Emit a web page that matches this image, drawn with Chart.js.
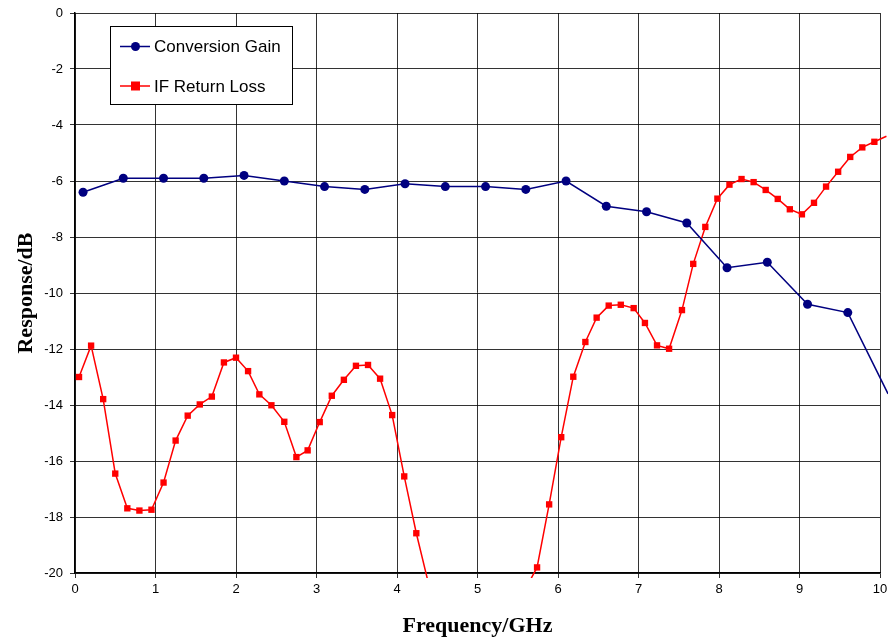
<!DOCTYPE html>
<html lang="en">
<head>
<meta charset="UTF-8">
<title>Response vs Frequency</title>
<script src="https://cdn.jsdelivr.net/npm/chart.js"></script>
<style>
  html, body { margin: 0; padding: 0; background: #fff; }
  #wrap { width: 888px; height: 641px; }
</style>
</head>
<body>
<div id="wrap"><canvas id="respChart" width="888" height="641"></canvas></div>

<script>
// Conversion gain (GHz, dB)
const gainFreq = [0.1, 0.6, 1.1, 1.6, 2.1, 2.6, 3.1, 3.6, 4.1, 4.6, 5.1, 5.6, 6.1, 6.6, 7.1, 7.6, 8.1, 8.6, 9.1, 9.6, 10.1];
const gainDb   = [-6.4, -5.9, -5.9, -5.9, -5.8, -6.0, -6.2, -6.3, -6.1, -6.2, -6.2, -6.3, -6.0, -6.9, -7.1, -7.5, -9.1, -8.9, -10.4, -10.7, -13.6];

// IF return loss (GHz, dB) - points between 4.4 and 5.6 fall below the axis
const rlFreq = [0.05, 0.2, 0.35, 0.5, 0.65, 0.8, 0.95, 1.1, 1.25, 1.4, 1.55, 1.7, 1.85, 2.0, 2.15, 2.29,
  2.44, 2.6, 2.75, 2.89, 3.04, 3.19, 3.34, 3.49, 3.64, 3.79, 3.94, 4.09, 4.24, 4.39, 4.54, 4.69,
  4.84, 4.99, 5.14, 5.29, 5.44, 5.59, 5.74, 5.89, 6.04, 6.19, 6.34, 6.48, 6.63, 6.78, 6.94, 7.08,
  7.23, 7.38, 7.54, 7.68, 7.83, 7.98, 8.13, 8.28, 8.43, 8.58, 8.73, 8.88, 9.03, 9.18, 9.33, 9.48,
  9.63, 9.78, 9.93, 10.08];
const rlDb = [-13.0, -11.88, -13.79, -16.45, -17.69, -17.77, -17.74, -16.77, -15.27, -14.38, -13.98, -13.7, -12.48, -12.31, -12.79, -13.62,
  -14.01, -14.6, -15.86, -15.62, -14.61, -13.67, -13.1, -12.6, -12.57, -13.06, -14.36, -16.55, -18.58, -20.36, -21.8, -23.0,
  -24.0, -24.5, -24.0, -23.0, -22.0, -20.6, -19.8, -17.55, -15.15, -12.99, -11.75, -10.88, -10.45, -10.42, -10.54, -11.07,
  -11.87, -11.99, -10.61, -8.96, -7.64, -6.63, -6.13, -5.93, -6.04, -6.32, -6.64, -7.01, -7.19, -6.78, -6.2, -5.67,
  -5.14, -4.8, -4.6, -4.4];

const xTicks = [0, 1, 2, 3, 4, 5, 6, 7, 8, 9, 10];
const yTicks = [0, -2, -4, -6, -8, -10, -12, -14, -16, -18, -20];

const toPts = (xs, ys) => xs.map((x, i) => ({ x: x, y: ys[i] }));

// legend box drawn inside the plot area
const boxLegend = {
  id: 'boxLegend',
  afterDraw(chart) {
    const c = chart.ctx;
    c.save();
    c.fillStyle = '#fff';
    c.fillRect(110, 26, 182, 78);
    c.strokeStyle = '#000';
    c.lineWidth = 1;
    c.strokeRect(110.5, 26.5, 182, 78);
    const rows = [46.5, 86];
    chart.data.datasets.forEach((ds, i) => {
      const y = rows[i];
      c.strokeStyle = ds.borderColor;
      c.lineWidth = 1.5;
      c.beginPath();
      c.moveTo(120, y);
      c.lineTo(150, y);
      c.stroke();
      c.fillStyle = ds.backgroundColor;
      if (ds.pointStyle === 'rect') {
        c.fillRect(131, y - 4.5, 9, 9);
      } else {
        c.beginPath();
        c.arc(135.5, y, 4.5, 0, Math.PI * 2);
        c.fill();
      }
      c.fillStyle = '#000';
      c.font = '17px "Liberation Sans", Arial, sans-serif';
      c.textBaseline = 'middle';
      c.fillText(ds.label, 154, y + 1);
    });
    c.restore();
  }
};

const ctx = document.getElementById('respChart').getContext('2d');
const respChart = new Chart(ctx, {
  type: 'line',
  data: {
    datasets: [
      {
        label: 'Conversion Gain',
        data: toPts(gainFreq, gainDb),
        borderColor: '#000080',
        backgroundColor: '#000080',
        borderWidth: 1.5,
        pointStyle: 'circle',
        pointRadius: 4.5,
        pointBorderWidth: 0,
        tension: 0,
        clip: { left: 5, top: 5, right: 8, bottom: 5 }
      },
      {
        label: 'IF Return Loss',
        data: toPts(rlFreq, rlDb),
        borderColor: '#ff0000',
        backgroundColor: '#ff0000',
        borderWidth: 1.5,
        pointStyle: 'rect',
        pointRadius: 4.5,
        pointBorderWidth: 0,
        tension: 0,
        clip: { left: 5, top: 5, right: 8, bottom: 5 }
      }
    ]
  },
  options: {
    responsive: false,
    animation: false,
    layout: { padding: { top: 13, right: 8, left: 0, bottom: 0 } },
    plugins: {
      legend: { display: false },
      tooltip: { enabled: false }
    },
    scales: {
      x: {
        type: 'linear',
        min: 0,
        max: 10,
        afterBuildTicks: axis => { axis.ticks = xTicks.map(v => ({ value: v })); },
        afterFit: axis => { axis.height = 68; axis.paddingLeft = 0; axis.paddingRight = 0; },
        grid: { color: 'rgba(0,0,0,0.8)', lineWidth: 1, tickLength: 5, drawTicks: true },
        border: { color: '#000', width: 1.5 },
        ticks: {
          color: '#000',
          padding: 4,
          maxRotation: 0,
          font: { family: '"Liberation Sans", Arial, sans-serif', size: 13 }
        },
        title: {
          display: true,
          text: 'Frequency/GHz',
          color: '#000',
          padding: { top: 4, bottom: 1 },
          font: { family: '"Liberation Serif", "Times New Roman", serif', size: 22, weight: 'bold' }
        }
      },
      y: {
        type: 'linear',
        min: -20,
        max: 0,
        afterBuildTicks: axis => { axis.ticks = yTicks.map(v => ({ value: v })); },
        afterFit: axis => { axis.width = 75; axis.paddingTop = 0; axis.paddingBottom = 0; },
        grid: { color: 'rgba(0,0,0,0.8)', lineWidth: 1, tickLength: 5, drawTicks: true },
        border: { color: '#000', width: 1.5 },
        ticks: {
          color: '#000',
          padding: 7,
          font: { family: '"Liberation Sans", Arial, sans-serif', size: 13 }
        },
        title: {
          display: true,
          text: 'Response/dB',
          color: '#000',
          padding: { top: 13, bottom: 4 },
          font: { family: '"Liberation Serif", "Times New Roman", serif', size: 22, weight: 'bold' }
        }
      }
    }
  },
  plugins: [boxLegend]
});
</script>
</body>
</html>
